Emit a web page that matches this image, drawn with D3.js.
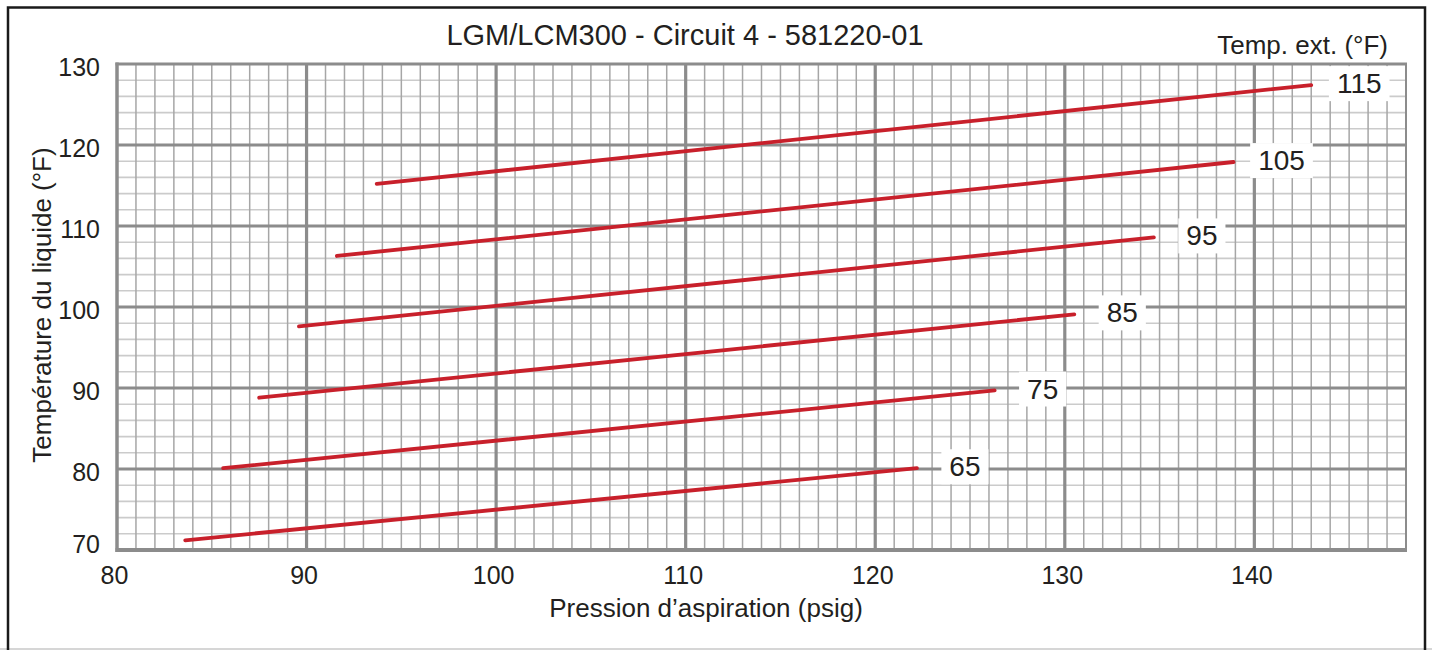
<!DOCTYPE html>
<html>
<head>
<meta charset="utf-8">
<script src="https://cdn.jsdelivr.net/npm/d3@7"></script>
<style>
  html, body { margin: 0; padding: 0; background: #fff; }
  svg { display: block; font-family: "Liberation Sans", Arial, sans-serif; }
</style>
</head>
<body>
<svg id="chart" width="1432" height="650"></svg>
<script>
// ---- data ----
const title = "LGM/LCM300 - Circuit 4 - 581220-01";
const xTitle = "Pression d\u2019aspiration (psig)";
const yTitle = "Température du liquide (°F)";
const legendTitle = "Temp. ext. (°F)";
const xTicks = [80, 90, 100, 110, 120, 130, 140];
const yTicks = [70, 80, 90, 100, 110, 120, 130];
const seriesNames = ["65", "75", "85", "95", "105", "115"];
const startPressure = [83.6, 85.6, 87.5, 89.6, 91.6, 93.7];
const startTemp = [71.2, 80.1, 88.8, 97.6, 106.3, 115.2];
const endPressure = [122.2, 126.3, 130.5, 134.7, 138.9, 143.0];
const endTemp = [80.1, 89.7, 99.1, 108.6, 117.9, 127.4];

// ---- layout ----
const svg = d3.select("#chart");
const L = 117, R = 1406, T = 64, B = 550;
const x = d3.scaleLinear().domain([80, 148]).range([L, R]);
const y = d3.scaleLinear().domain([70, 130]).range([B, T]);

// outer frame
svg.append("line").attr("x1", 0).attr("x2", 1432).attr("y1", 649).attr("y2", 649)
  .attr("stroke", "#c8c8c8").attr("stroke-width", 1.5);
svg.append("path").attr("d", `M8,660 L8,7.5 L1425,7.5 L1425,660`)
  .attr("fill", "none").attr("stroke", "#1a1a1a").attr("stroke-width", 2.5);

// grid
const g = svg.append("g");
const minorX = d3.range(81, 148, 1).filter(v => v % 10 !== 0);
const minorY = d3.range(72, 130, 2).filter(v => v % 10 !== 0);
g.selectAll(".hmin").data(minorY).join("line")
  .attr("x1", L).attr("x2", R).attr("y1", d => y(d)).attr("y2", d => y(d))
  .attr("stroke", "#cbcbcb").attr("stroke-width", 1.6);
g.selectAll(".vmin").data(minorX).join("line")
  .attr("x1", d => x(d)).attr("x2", d => x(d)).attr("y1", T).attr("y2", B)
  .attr("stroke", "#a6a6a6").attr("stroke-width", 1.5);
g.selectAll(".hmaj").data(yTicks.slice(1, -1)).join("line")
  .attr("x1", L).attr("x2", R).attr("y1", d => y(d)).attr("y2", d => y(d))
  .attr("stroke", "#8c8c8c").attr("stroke-width", 3.2);
g.selectAll(".vmaj").data(xTicks.slice(1)).join("line")
  .attr("x1", d => x(d)).attr("x2", d => x(d)).attr("y1", T).attr("y2", B)
  .attr("stroke", "#8c8c8c").attr("stroke-width", 3.2);
// plot border
g.append("line").attr("x1", R).attr("x2", R).attr("y1", T).attr("y2", B)
  .attr("stroke", "#8c8c8c").attr("stroke-width", 2);
g.append("line").attr("x1", L - 1.5).attr("x2", R + 1).attr("y1", T).attr("y2", T)
  .attr("stroke", "#8c8c8c").attr("stroke-width", 3);
g.append("line").attr("x1", L - 1.5).attr("x2", R + 1).attr("y1", B).attr("y2", B)
  .attr("stroke", "#8c8c8c").attr("stroke-width", 4);
g.append("line").attr("x1", L).attr("x2", L).attr("y1", T - 1.5).attr("y2", B + 2)
  .attr("stroke", "#8c8c8c").attr("stroke-width", 3.5);

// axes (labels only)
const xAxis = svg.append("g").attr("transform", `translate(-3,${B + 13})`)
  .call(d3.axisBottom(x).tickValues(xTicks).tickSize(0).tickFormat(d3.format("d")));
xAxis.select(".domain").remove();
xAxis.selectAll("text").attr("font-size", 25).attr("fill", "#231f20")
  .attr("font-family", "Liberation Sans, Arial, sans-serif");
const yAxis = svg.append("g").attr("transform", `translate(${L - 14},3)`)
  .call(d3.axisLeft(y).tickValues(yTicks).tickSize(0).tickFormat(d3.format("d")));
yAxis.select(".domain").remove();
yAxis.selectAll("text").attr("font-size", 25).attr("fill", "#231f20")
  .attr("font-family", "Liberation Sans, Arial, sans-serif")
  .attr("y", d => d === 70 ? -9 : 0);

// series lines
const series = seriesNames.map((name, i) => ({
  name,
  pts: [[startPressure[i], startTemp[i]], [endPressure[i], endTemp[i]]]
}));
const lineGen = d3.line().x(d => x(d[0])).y(d => y(d[1]));
svg.append("g").selectAll("path").data(series).join("path")
  .attr("d", d => lineGen(d.pts))
  .attr("fill", "none").attr("stroke", "#c8202b").attr("stroke-width", 3.8)
  .attr("stroke-linecap", "round");

// series labels with white boxes
const lab = svg.append("g").selectAll("g").data(series).join("g")
  .attr("transform", d => `translate(${x(d.pts[1][0]) + 48},${y(d.pts[1][1]) - 2})`);
lab.append("text").attr("text-anchor", "middle").attr("dy", "0.36em")
  .attr("font-size", 28).attr("fill", "#231f20").text(d => d.name)
  .each(function () {
    const bb = this.getBBox();
    d3.select(this.parentNode).insert("rect", "text")
      .attr("x", bb.x - 8).attr("y", bb.y - 2).attr("width", bb.width + 16).attr("height", bb.height + 4)
      .attr("fill", "#fff");
  });

// titles
svg.append("text").attr("x", 685).attr("y", 45).attr("text-anchor", "middle")
  .attr("font-size", 29).attr("fill", "#231f20").text(title);
svg.append("text").attr("x", 706).attr("y", 617).attr("text-anchor", "middle")
  .attr("font-size", 26).attr("fill", "#231f20").text(xTitle);
svg.append("text").attr("transform", `translate(51,305) rotate(-90)`).attr("text-anchor", "middle")
  .attr("font-size", 26).attr("fill", "#231f20").text(yTitle);
svg.append("text").attr("x", 1388).attr("y", 54).attr("text-anchor", "end")
  .attr("font-size", 26).attr("fill", "#231f20").text(legendTitle);
</script>
</body>
</html>
